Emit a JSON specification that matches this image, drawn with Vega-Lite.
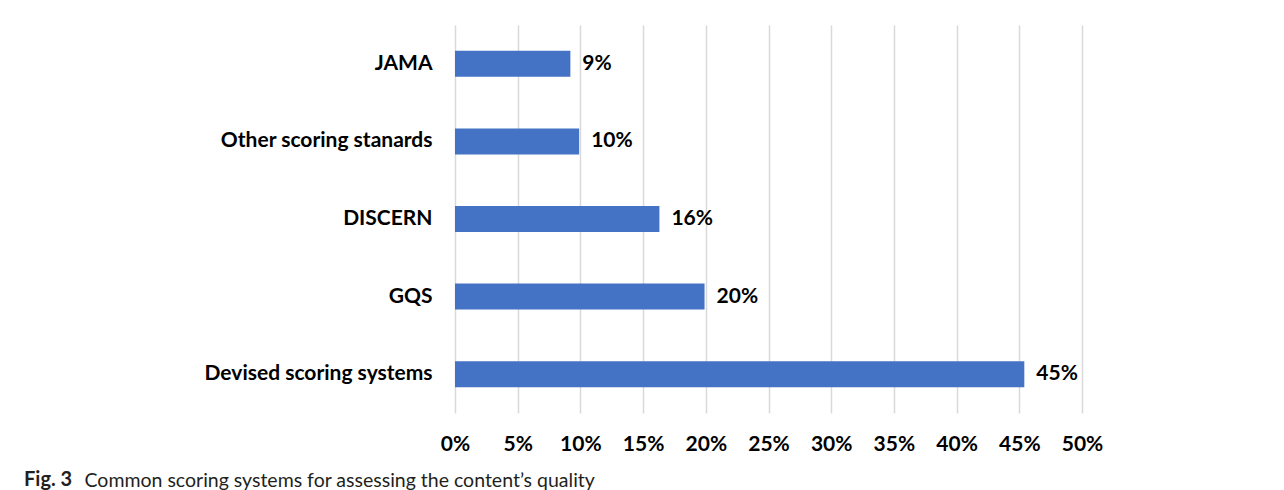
{
  "$schema": "https://vega.github.io/schema/vega-lite/v6.json",
  "width": 627,
  "height": 388,
  "autosize": {"type": "none"},
  "padding": {"left": 455, "top": 25, "right": 202, "bottom": 77},
  "background": "white",
  "data": {
    "values": [
      {"system": "JAMA", "share": 0.092},
      {"system": "Other scoring stanards", "share": 0.099},
      {"system": "DISCERN", "share": 0.163},
      {"system": "GQS", "share": 0.199},
      {"system": "Devised scoring systems", "share": 0.454}
    ]
  },
  "title": {
    "text": "Fig. 3",
    "orient": "bottom",
    "anchor": "start",
    "frame": "group",
    "dx": -431,
    "dy": -24,
    "font": "Lato",
    "fontSize": 20,
    "fontWeight": "bold",
    "color": "#231f20"
  },
  "encoding": {
    "y": {
      "field": "system",
      "type": "nominal",
      "sort": null,
      "scale": {"paddingInner": 0.665, "paddingOuter": 0.3325},
      "axis": {
        "title": null,
        "ticks": false,
        "domain": false,
        "labelPadding": 23,
        "labelFont": "Lato",
        "labelFontSize": 21,
        "labelFontWeight": "bold",
        "labelColor": "#000000",
        "labelLimit": 400
      }
    },
    "x": {
      "field": "share",
      "type": "quantitative",
      "scale": {"domain": [0, 0.5], "nice": false},
      "axis": {
        "format": ".0%",
        "values": [0, 0.05, 0.1, 0.15, 0.2, 0.25, 0.3, 0.35, 0.4, 0.45, 0.5],
        "labelOverlap": false,
        "labelFlush": false,
        "grid": true,
        "gridColor": "#d9d9d9",
        "gridWidth": 1.5,
        "ticks": false,
        "domain": false,
        "labelPadding": 20,
        "labelFont": "Lato",
        "labelFontSize": 21,
        "labelFontWeight": "bold",
        "labelColor": "#000000",
        "title": "Common scoring systems for assessing the content\u2019s quality",
        "titleFont": "Lato",
        "titleFontSize": 19.5,
        "titleFontWeight": "normal",
        "titleColor": "#231f20",
        "titleAnchor": "start",
        "titleAlign": "left",
        "titleBaseline": "alphabetic",
        "titleX": -371,
        "titleY": 73
      }
    }
  },
  "layer": [
    {"mark": {"type": "bar", "color": "#4472c4"}},
    {
      "mark": {
        "type": "text",
        "align": "left",
        "baseline": "middle",
        "dx": 12,
        "font": "Lato",
        "fontSize": 21,
        "fontWeight": "bold",
        "color": "#000000"
      },
      "encoding": {"text": {"field": "share", "format": ".0%"}}
    }
  ],
  "config": {"view": {"stroke": null}}
}
